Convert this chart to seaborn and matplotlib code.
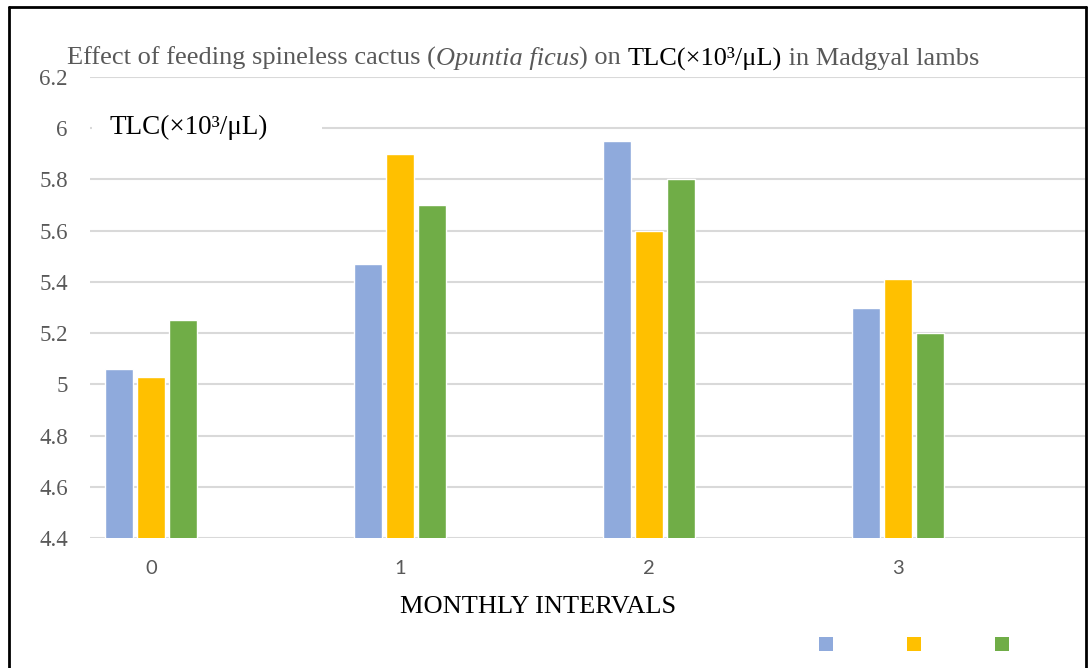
import matplotlib
matplotlib.use("Agg")
import matplotlib.pyplot as plt
import seaborn as sns
import pandas as pd
import numpy as np
from matplotlib.patches import Patch, Rectangle
from matplotlib.lines import Line2D
from matplotlib.ticker import FuncFormatter

# ---- data ----
months = ["0", "1", "2", "3"]
series_names = ["Series A", "Series B", "Series C"]
series_a = [5.06, 5.47, 5.95, 5.30]
series_b = [5.03, 5.90, 5.60, 5.41]
series_c = [5.25, 5.70, 5.80, 5.20]
colors = ["#8FAADC", "#FFC000", "#70AD47"]
yticks = [4.4, 4.6, 4.8, 5.0, 5.2, 5.4, 5.6, 5.8, 6.0, 6.2]

df = pd.DataFrame({
    "month": months * 3,
    "series": [series_names[0]] * 4 + [series_names[1]] * 4 + [series_names[2]] * 4,
    "value": series_a + series_b + series_c,
})

sns.set_theme(style="white")
plt.rcParams["font.family"] = ["Liberation Sans", "DejaVu Sans"]

W, H = 1088, 668
fig = plt.figure(figsize=(W / 100, H / 100), dpi=100)
ax = fig.add_axes([90 / W, 1 - 538 / H, (1085 - 90) / W, (538 - 77) / H])

sns.barplot(data=df, x="month", y="value", hue="series", order=months,
            hue_order=series_names, palette=colors, width=0.385, gap=0.125,
            saturation=1, ax=ax, legend=False, errorbar=None)

serif = ["Liberation Serif", "DejaVu Serif"]
grey = "#595959"

ax.set_xlim(-0.245, 3.75)
ax.set_ylim(4.4, 6.2)
ax.set_yticks(yticks)
ax.yaxis.set_major_formatter(FuncFormatter(lambda v, p: f"{v:g}"))
ax.grid(axis="y", color="#D9D9D9", linewidth=1.5)
ax.set_axisbelow(True)
for s in ax.spines.values():
    s.set_visible(False)
ax.tick_params(axis="both", length=0, labelcolor=grey)
ax.tick_params(axis="y", pad=16)
ax.tick_params(axis="x", pad=16)
for lab in ax.get_yticklabels():
    lab.set_family(serif)
    lab.set_fontsize(16.5)
for lab in ax.get_xticklabels():
    lab.set_family(["Lato", "DejaVu Sans"])
    lab.set_fontsize(14.5)
ax.set_xlabel("")
ax.set_ylabel("")

# x-axis title
fig.text(538 / W, 1 - 607 / H, "MONTHLY INTERVALS", family=serif, fontsize=19,
         color="black", ha="center", va="center")

# y-axis label inside plot area with white background
ax.add_patch(Rectangle((2 / 995, (538 - 141) / 461), (322 - 92) / 995, 28 / 461,
                       transform=ax.transAxes, facecolor="white", edgecolor="none",
                       zorder=2))
ax.text(20 / 995, (538 - 127) / 461, "TLC(×10³/μL)", transform=ax.transAxes,
        family=serif, fontsize=19.5, color="black", ha="left", va="center", zorder=3)

# title with mixed styles
t1 = fig.text(67 / W, 1 - 70 / H, "Effect of feeding spineless cactus (", family=serif,
              fontsize=19, color=grey, ha="left", va="bottom")
pieces = [("Opuntia ficus", "italic", grey), (") on ", "normal", grey),
          ("TLC(×10³/μL)", "normal", "black"), (" in Madgyal lambs", "normal", grey)]
prev = t1
for txt, style, col in pieces:
    prev = ax.annotate(txt, xy=(1, 0), xycoords=prev, va="bottom", ha="left",
                       family=serif, fontsize=19, style=style, color=col,
                       annotation_clip=False)

# legend with blank labels
handles = [Patch(facecolor=c, edgecolor="none") for c in colors]
fig.legend(handles=handles, labels=["", "", ""], ncol=3, loc="center",
           bbox_to_anchor=(918 / W, 1 - 645 / H), frameon=False, fontsize=12,
           handlelength=0.84, handleheight=0.84, handletextpad=0.5,
           columnspacing=3.93, borderpad=0)

# outer border
lc = "black"
fig.add_artist(Line2D([9 / W, 9 / W], [0, 1 - 7 / H], color=lc, lw=2, transform=fig.transFigure))
fig.add_artist(Line2D([1086 / W, 1086 / W], [0, 1 - 7 / H], color=lc, lw=2, transform=fig.transFigure))
fig.add_artist(Line2D([9 / W, 1086 / W], [1 - 7 / H, 1 - 7 / H], color=lc, lw=2, transform=fig.transFigure))

fig.savefig("out.png", dpi=100)
